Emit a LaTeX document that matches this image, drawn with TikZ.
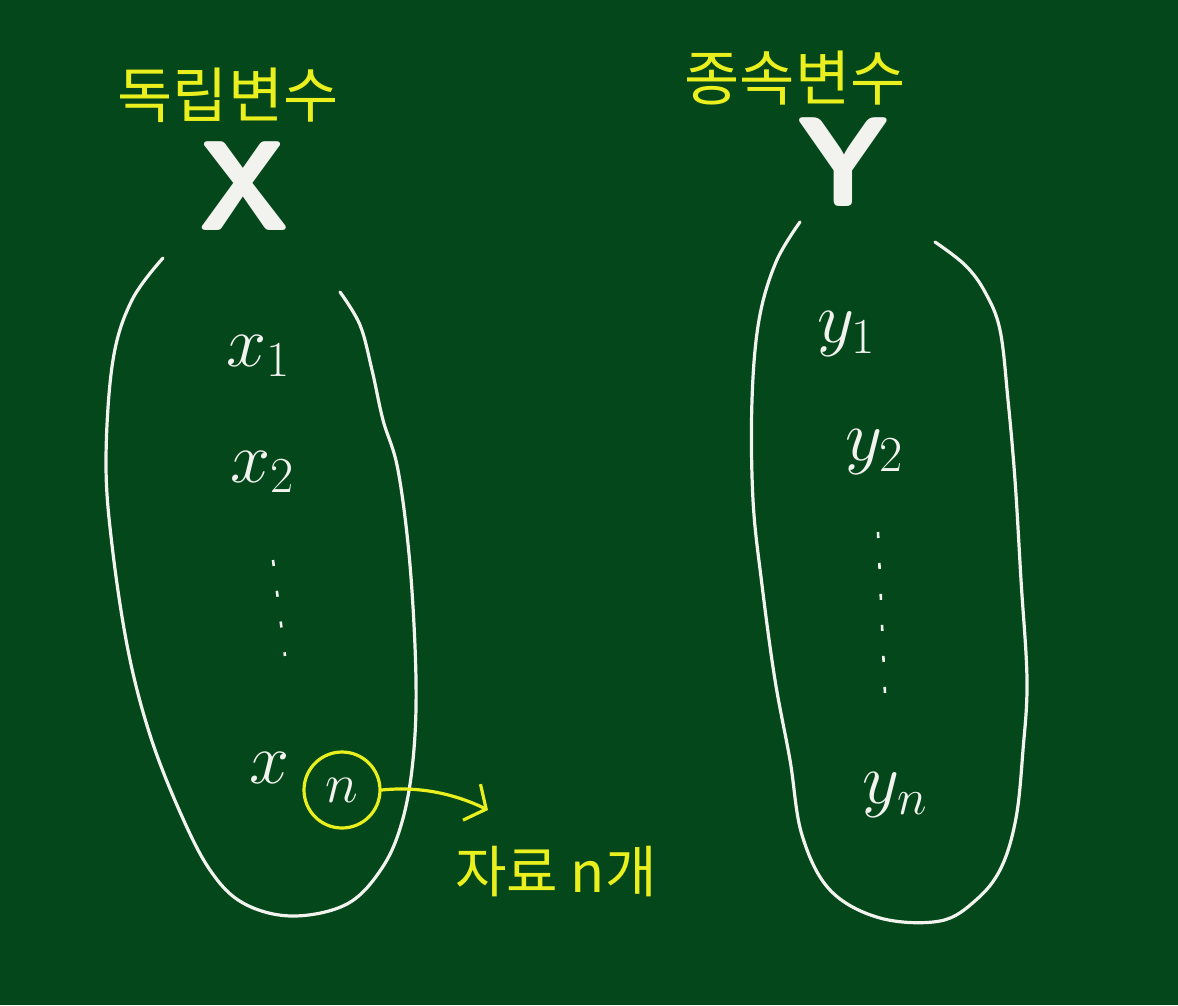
\RequirePackage{fix-cm}
\documentclass[tikz,border=0pt]{standalone}
\usepackage{fontspec}
\newfontfamily\kor{Noto Sans CJK KR}
\usetikzlibrary{arrows.meta,positioning}
\definecolor{board}{HTML}{03471A}
\definecolor{chalk}{HTML}{F2F2EE}
\definecolor{marker}{HTML}{EAF01E}

\begin{document}
\begin{tikzpicture}[x=1pt,y=-1pt,
  kolabel/.style={marker, inner sep=0pt, font=\kor\fontsize{60}{60}\selectfont},
  bigvar/.style={chalk, inner sep=0pt, font=\sffamily\bfseries\fontsize{128}{128}\selectfont},
  val/.style={chalk, inner sep=0pt, font=\fontsize{72}{72}\selectfont},
  sack/.style={chalk, line width=3.2pt, line cap=round, line join=round},
  dotcol/.style={chalk, line width=2.6pt, dash pattern=on 6pt off 25pt}]
  \fill[board] (0,0) rectangle (1178,1005);
  \useasboundingbox (0,0) rectangle (1178,1005);

  % headings
  \node[kolabel] (indep) at (228,95) {독립변수};
  \node[kolabel] (dep) at (795,78) {종속변수};
  \node[bigvar] (bigX) at (244,186) {X};
  \node[bigvar] (bigY) at (843,162) {Y};

  % left sack: x values
  \draw[sack] plot[smooth, tension=0.6] coordinates {(163,258) (132,300) (113,360)
    (106,460) (112,545) (128,650) (150,735) (180,812) (210,870) (243,903)
    (292,916) (347,904) (382,868) (402,822) (413,760) (416,680) (410,565)
    (398,470) (383,420) (372,370) (360,325) (340,292)};
  \node[val] (x1) at (258,356) {$x_1$};
  \node[val] (x2) at (262,472) {$x_2$};
  \draw[dotcol] (273,560) -- (285,656);
  \node[val] (xn) at (270,768) {$x$};
  \node[chalk, circle, draw=marker, line width=3.2pt, minimum size=76pt,
    font=\fontsize{56}{56}\selectfont] (nsub) at (342,790) {$n$};

  % right sack: y values
  \draw[sack] plot[smooth, tension=0.6] coordinates {(800,222) (776,262) (759,320)
    (752,400) (753,500) (762,585) (775,680) (790,760) (802,835) (830,890)
    (880,918) (940,921) (976,900) (1001,868) (1016,818) (1023,750) (1027,680)
    (1021,580) (1015,480) (1008,400) (1000,330) (985,292) (965,265) (935,242)};
  \node[val] (y1) at (846,334) {$y_1$};
  \node[val] (y2) at (874,452) {$y_2$};
  \draw[dotcol] (878,532) -- (885,694);
  \node[val] (yn) at (895,795) {$y_n$};

  % data count
  \node[kolabel, font=\kor\fontsize{56}{56}\selectfont] (count) at (556,872) {자료 n개};
  \coordinate (tip) at (488,810);
  \draw[marker, line width=3.2pt, line cap=round,
    -{Straight Barb[length=16pt, width=40pt]}]
    (nsub.east) .. controls (420,786) and (455,794) .. (tip);
\end{tikzpicture}
\end{document}
